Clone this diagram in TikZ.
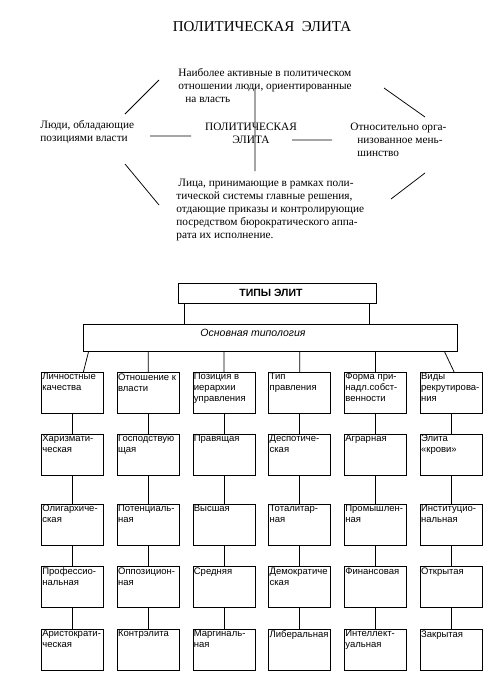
\documentclass[tikz,border=0pt]{standalone}
\usepackage{fontspec}
\setmainfont{Liberation Serif}
\setsansfont{Liberation Sans}
\usetikzlibrary{positioning}
\newcommand{\celltxt}[1]{\parbox[c][39pt][t]{60pt}{\raggedright #1}}
\tikzset{
  x=1pt, y=-1pt, % measured from the top left corner
  every path/.style={line width=0.75pt},
  elitetext/.style={font=\fontsize{11.3}{12.9}\selectfont, align=left,
    inner sep=0pt, anchor=north west}, % texts round the centre
  typbox/.style={draw, inner sep=0pt, minimum width=62pt,
    minimum height=41pt, font=\sffamily\fontsize{9.5}{11}\selectfont},
  % each box of the typology
}

\begin{document}
\begin{tikzpicture}
    \useasboundingbox (0,0) rectangle (500,686);

    % upper part
    \node[font=\fontsize{15}{18}\selectfont] (title) at (262,27)
    {ПОЛИТИЧЕСКАЯ\ \ ЭЛИТА};
    \node[elitetext] (active) at (178,68) {Наиболее активные в политическом\\
      отношении люди, ориентированные\\\hspace*{7pt}на власть};
    \node[elitetext] (power) at (40,120) {Люди, обладающие\\позициями власти};
    \node[elitetext] (minor) at (350,123) {Относительно орга-\\
      \hspace*{7pt}низованное мень-\\\hspace*{7pt}шинство};
    \node[elitetext] (decide) at (176,179) {\hspace*{2pt}Лица, принимающие в рамках поли-\\
      тической системы главные решения,\\
      отдающие приказы и контролирующие\\
      посредством бюрократического аппа-\\рата их исполнение.};
    \node[font=\fontsize{11.3}{13}\selectfont, align=center] (elite) at (251,133)
    {ПОЛИТИЧЕСКАЯ\\ЭЛИТА};

    \coordinate (vtop) at (255,88);
    \coordinate (vbot) at (255,171);
    \coordinate (hl1) at (150,136);
    \coordinate (hl2) at (191,136);
    \coordinate (hr1) at (292,140);
    \coordinate (hr2) at (332,140);
    \coordinate (ul1) at (159,80);
    \coordinate (ul2) at (125,114);
    \coordinate (ur1) at (384,88);
    \coordinate (ur2) at (425,117);
    \coordinate (ll1) at (125,164);
    \coordinate (ll2) at (159,205);
    \coordinate (lr1) at (425,173);
    \coordinate (lr2) at (391,199);
    \draw (vtop) -- (vbot) (hl1) -- (hl2) (hr1) -- (hr2)
    (ul1) -- (ul2) (ur1) -- (ur2) (ll1) -- (ll2) (lr1) -- (lr2);

    % lower part
    \node[draw, minimum width=198pt, minimum height=20pt, inner sep=0pt,
    font=\sffamily\bfseries\fontsize{10.5}{12}\selectfont] (types) at (277,293)
    {ТИПЫ ЭЛИТ\hspace*{12pt}};
    \node[draw, minimum width=374pt, inner sep=0pt, text height=8.5pt,
    text depth=11.5pt, inner ysep=3.5pt,
    font=\sffamily\itshape\fontsize{10.5}{12}\selectfont] (basic) at (270,337.5)
    {Основная типология\hspace*{34pt}};
    \coordinate (typesL) at ([xshift=7pt]types.south west);
    \coordinate (typesR) at ([xshift=-7pt]types.south east);
    \draw (typesL) -- (typesL |- basic.north) (typesR) -- (typesR |- basic.north);

    \node[typbox, anchor=north west] (lich) at (41,372)
    {\celltxt{Личностные\\качества}};
    \node[typbox, right=13pt of lich] (otn) {\celltxt{Отношение к\\власти}};
    \node[typbox, right=13pt of otn] (poz) {\celltxt{Позиция в\\иерархии\\управления}};
    \node[typbox, right=13pt of poz] (tip) {\celltxt{Тип\\правления}};
    \node[typbox, right=13pt of tip] (forma) {\celltxt{Форма при-\\надл.собст-\\венности}};
    \node[typbox, right=13pt of forma] (vidy) {\celltxt{Виды\\рекрутирова-\\ния}};

    \node[typbox, below=20pt of lich] (hariz) {\celltxt{Харизмати-\\ческая}};
    \node[typbox, below=20pt of otn] (gosp) {\celltxt{Господствую\\щая}};
    \node[typbox, below=20pt of poz] (prav) {\celltxt{Правящая}};
    \node[typbox, below=20pt of tip] (desp) {\celltxt{Деспотиче-\\ская}};
    \node[typbox, below=20pt of forma] (agr) {\celltxt{Аграрная}};
    \node[typbox, below=20pt of vidy] (krov) {\celltxt{Элита\\«крови»}};

    \node[typbox, below=28pt of hariz] (olig) {\celltxt{Олигархиче-\\ская}};
    \node[typbox, below=28pt of gosp] (poten) {\celltxt{Потенциаль-\\ная}};
    \node[typbox, below=28pt of prav] (vysh) {\celltxt{Высшая}};
    \node[typbox, below=28pt of desp] (total) {\celltxt{Тоталитар-\\ная}};
    \node[typbox, below=28pt of agr] (prom) {\celltxt{Промышлен-\\ная}};
    \node[typbox, below=28pt of krov] (inst) {\celltxt{Институцио-\\нальная}};

    \node[typbox, below=21pt of olig] (prof) {\celltxt{Профессио-\\нальная}};
    \node[typbox, below=21pt of poten] (oppoz) {\celltxt{Оппозицион-\\ная}};
    \node[typbox, below=21pt of vysh] (sred) {\celltxt{Средняя}};
    \node[typbox, below=21pt of total] (demo) {\celltxt{Демократиче\\ская}};
    \node[typbox, below=21pt of prom] (fin) {\celltxt{Финансовая}};
    \node[typbox, below=21pt of inst] (otkr) {\celltxt{Открытая}};

    \node[typbox, below=21pt of prof] (arist) {\celltxt{Аристократи-\\ческая}};
    \node[typbox, below=21pt of oppoz] (kontr) {\celltxt{Контрэлита}};
    \node[typbox, below=21pt of sred] (marg) {\celltxt{Маргиналь-\\ная}};
    \node[typbox, below=21pt of demo] (liber) {\celltxt{Либеральная}};
    \node[typbox, below=21pt of fin] (intel) {\celltxt{Интеллект-\\уальная}};
    \node[typbox, below=21pt of otkr] (zakr) {\celltxt{Закрытая}};

    % from the typology to the first row
    \coordinate (basicL) at ([xshift=6pt]basic.south west);
    \coordinate (basicR) at ([xshift=-13pt]basic.south east);
    \draw (basicL) -- ([xshift=11pt]lich.north)
    (otn.north) -- (otn.north |- basic.south)
    (poz.north) -- (poz.north |- basic.south)
    (tip.north) -- (tip.north |- basic.south)
    (forma.north) -- (forma.north |- basic.south)
    (basicR) -- ([xshift=3pt]vidy.north);

    % down each column
    \draw (lich) -- (hariz) (hariz) -- (olig) (olig) -- (prof) (prof) -- (arist)
    (otn) -- (gosp) (gosp) -- (poten) (poten) -- (oppoz) (oppoz) -- (kontr)
    (poz) -- (prav) (prav) -- (vysh) (vysh) -- (sred) (sred) -- (marg)
    (tip) -- (desp) (desp) -- (total) (total) -- (demo) (demo) -- (liber)
    (forma) -- (agr) (agr) -- (prom) (prom) -- (fin) (fin) -- (intel)
    (vidy) -- (krov) (krov) -- (inst) (inst) -- (otkr) (otkr) -- (zakr);
  \end{tikzpicture}
\end{document}
